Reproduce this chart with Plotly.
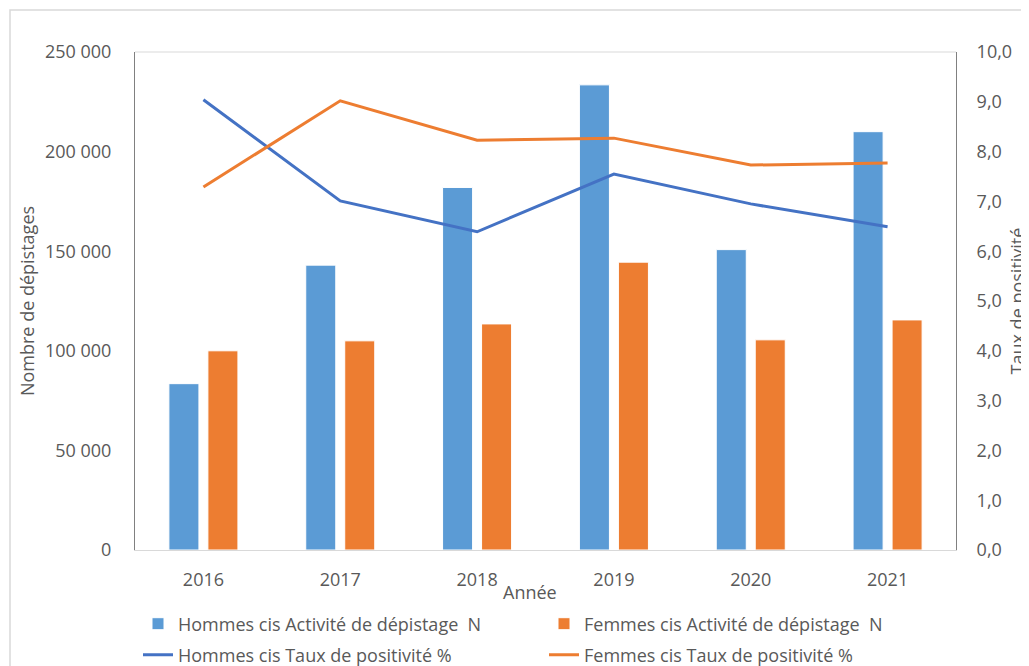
import plotly.graph_objects as go

years = ["2016", "2017", "2018", "2019", "2020", "2021"]
hommes_n = [83500, 143000, 182000, 233500, 150800, 210000]
femmes_n = [100000, 105000, 113500, 144500, 105500, 115500]
hommes_taux = [9.04, 7.01, 6.39, 7.55, 6.95, 6.49]
femmes_taux = [7.29, 9.02, 8.23, 8.27, 7.73, 7.77]

left_ticks = [0, 50000, 100000, 150000, 200000, 250000]
left_labels = ["0", "50 000", "100 000", "150 000", "200 000", "250 000"]
right_ticks = [0, 1, 2, 3, 4, 5, 6, 7, 8, 9, 10]
right_labels = ["0,0", "1,0", "2,0", "3,0", "4,0", "5,0", "6,0", "7,0", "8,0", "9,0", "10,0"]

BLUE_BAR = "#5B9BD5"
ORANGE = "#ED7D31"
BLUE_LINE = "#4472C4"
GRAY = "#595959"
FONT = "Open Sans"

fig = go.Figure()
fig.add_trace(go.Bar(x=years, y=hommes_n, name="Hommes cis Activité de dépistage  N",
                     marker=dict(color=BLUE_BAR, line=dict(color="white", width=1)),
                     legend="legend"))
fig.add_trace(go.Bar(x=years, y=femmes_n, name="Femmes cis Activité de dépistage  N",
                     marker=dict(color=ORANGE, line=dict(color="white", width=1)),
                     legend="legend"))
fig.add_trace(go.Scatter(x=years, y=hommes_taux, name="Hommes cis Taux de positivité %",
                         mode="lines", line=dict(color=BLUE_LINE, width=3), yaxis="y2",
                         legend="legend2"))
fig.add_trace(go.Scatter(x=years, y=femmes_taux, name="Femmes cis Taux de positivité %",
                         mode="lines", line=dict(color=ORANGE, width=3), yaxis="y2",
                         legend="legend2"))

# page body has an 8px margin: figure occupies screen pixels 8..1029 / 8..666
OFF = 8
W, H = 1029 - OFF, 666 - OFF
# plot area in screen pixels: x 135..956, y 52..550
SL, SR, ST, SB = 135, 956, 52, 550
L, T = SL - OFF, ST - OFF
R, B = W - (SR - OFF), H - (SB - OFF)
pw, ph = SR - SL, SB - ST

def px_x(p):
    return (p - SL) / pw

def px_y(p):
    return (SB - p) / ph

legend_common = dict(orientation="h", x=px_x(138), xanchor="left", yanchor="middle",
                     entrywidth=361, entrywidthmode="pixels", font=dict(size=18, color=GRAY),
                     traceorder="normal", itemwidth=30, bgcolor="rgba(0,0,0,0)")

fig.update_layout(
    width=W, height=H,
    margin=dict(l=L, r=R, t=T, b=B, autoexpand=False),
    paper_bgcolor="white", plot_bgcolor="white",
    font=dict(family=FONT, color=GRAY, size=16),
    barmode="group", bargap=0.43, bargroupgap=0.23,
    showlegend=True,
    legend=dict(legend_common, y=px_y(624)),
    legend2=dict(legend_common, y=px_y(655)),
    xaxis=dict(showline=True, linecolor="#D9D9D9", linewidth=1, mirror=False,
               ticks="", tickfont=dict(size=18, color=GRAY), ticklabelstandoff=13,
               showgrid=False, zeroline=False),
    yaxis=dict(range=[0, 250000], tickvals=left_ticks, ticktext=left_labels,
               showline=True, linecolor="#808080", linewidth=1, ticks="",
               tickfont=dict(size=18, color=GRAY), ticklabelstandoff=19,
               showgrid=False, zeroline=False,
               title=dict(text="Nombre de dépistages", font=dict(size=18, color=GRAY), standoff=5)),
    yaxis2=dict(range=[0, 10], tickvals=right_ticks, ticktext=right_labels,
                overlaying="y", side="right", anchor="x",
                showline=True, linecolor="#808080", linewidth=1, ticks="",
                tickfont=dict(size=18, color=GRAY), ticklabelstandoff=16,
                showgrid=False, zeroline=False,
                title=dict(text="Taux de positivité", font=dict(size=18, color=GRAY), standoff=17)),
    shapes=[
        dict(type="line", xref="paper", yref="paper", x0=0, x1=1, y0=1, y1=1,
             line=dict(color="#D9D9D9", width=1)),
        dict(type="rect", xref="paper", yref="paper", x0=px_x(10), x1=px_x(1040),
             y0=px_y(690), y1=px_y(10), line=dict(color="#D9D9D9", width=1.5),
             fillcolor="rgba(0,0,0,0)", layer="below"),
    ],
    annotations=[
        dict(text="Année", xref="paper", yref="paper", x=px_x(530), y=px_y(592),
             xanchor="center", yanchor="middle", showarrow=False,
             font=dict(size=18, color=GRAY)),
    ],
)

fig.write_html("out.html")
